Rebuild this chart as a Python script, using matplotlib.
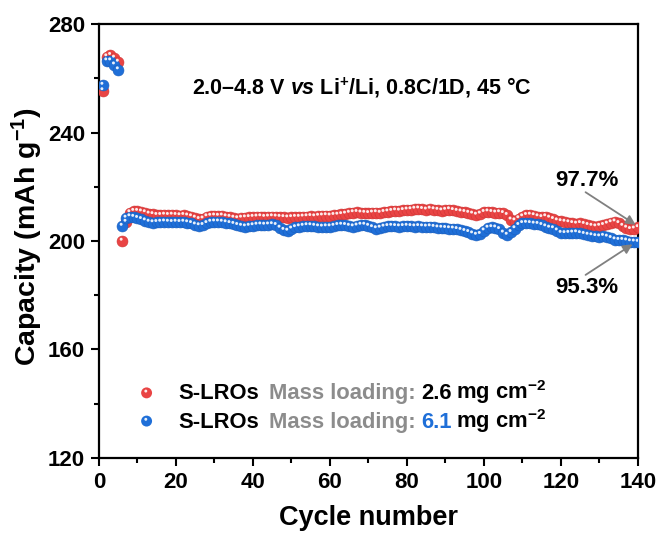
import matplotlib
matplotlib.use("Agg")
import matplotlib.pyplot as plt
import matplotlib.transforms as mtransforms
import numpy as np

plt.rcParams['font.family'] = ['Liberation Sans', 'DejaVu Sans']
plt.rcParams['font.weight'] = 'bold'
plt.rcParams['mathtext.fontset'] = 'custom'
plt.rcParams['mathtext.rm'] = 'Liberation Sans:bold'
plt.rcParams['mathtext.it'] = 'Liberation Sans:italic:bold'
plt.rcParams['mathtext.bf'] = 'Liberation Sans:bold'

cycles = list(range(1, 141))
cap_26 = [255.5, 268, 268.5, 267.5, 266, 200, 207, 210.5, 211, 211,
          210.8, 210.5, 210, 209.8, 209.5, 209.5, 209.6, 209.5, 209.6, 209.5,
          209.4, 209.5, 209.3, 209, 208.5, 208, 208.2, 209, 209.2, 209.3,
          209.2, 209.3, 209, 208.8, 208.5, 208.3, 208.5, 208.6, 208.7, 208.8,
          208.9, 209, 208.8, 208.9, 209, 208.9, 208.8, 208.7, 208.6, 208.7,
          208.8, 208.8, 208.9, 209, 209.1, 209, 209.2, 209.3, 209.4, 209.3,
          209.5, 209.6, 209.8, 210, 210.3, 210.5, 210.6, 210.4, 210.3, 210.2,
          210.4, 210.5, 210.3, 210.6, 210.8, 211, 211.2, 211.1, 211.3, 211.5,
          211.6, 211.8, 211.9, 211.7, 211.5, 211.8, 211.6, 211.4, 211.2, 211.4,
          211.6, 211.3, 211, 210.8, 210.6, 210.3, 210, 209.6, 210, 210.6,
          210.8, 210.6, 210.4, 210.5, 210.2, 209.5, 207.8, 207.5, 208.3, 209,
          209.5, 209.6, 209.4, 209, 208.7, 209, 208.5, 208, 207.5, 207.2,
          207, 206.8, 206.5, 206.3, 206.5, 206.2, 205.8, 205.5, 205.3, 205.5,
          205.8, 206.3, 206.8, 207.1, 206.5, 205.5, 204.8, 204.3, 204.5, 205]
cap_61 = [257.5, 266.5, 266.5, 265, 263.2, 205.5, 208.5, 209, 208.8, 208.4,
          208, 207.5, 207, 206.8, 206.9, 207, 207.1, 207, 206.9, 207,
          206.9, 207, 206.8, 206.5, 206, 205.7, 205.8, 206.5, 207, 207.1,
          207.1, 207, 206.8, 206.5, 206.2, 205.8, 205.5, 205.3, 205.5, 205.7,
          205.9, 206, 205.9, 206, 206.1, 205.8, 204.8, 204, 203.7, 204.5,
          205, 205.3, 205.5, 205.7, 205.7, 205.5, 205.3, 205.2, 205.3, 205.3,
          205.5, 205.8, 205.9, 205.8, 205.5, 205.3, 205.6, 205.9, 205.9, 205.5,
          205, 204.6, 204.8, 205.2, 205.4, 205.5, 205.4, 205.3, 205.4, 205.5,
          205.4, 205.3, 205.4, 205.3, 205.2, 205.3, 205.1, 204.9, 204.8, 204.7,
          204.6, 204.5, 204.3, 204, 203.6, 203.2, 202.7, 202.2, 202.5, 203.8,
          204.8, 205, 204.9, 204.3, 203, 202.2, 203.2, 204.6, 205.8, 206.5,
          206.6, 206.5, 206.3, 206.2, 205.8, 205.3, 204.8, 204.6, 203.8, 202.9,
          202.8, 202.9, 203, 203.1, 202.8, 202.5, 202.2, 202, 201.7, 201.6,
          201.8, 201.5, 201, 200.5, 200.3, 200.3, 200.1, 199.8, 199.7, 199.6]

x_ticks = [0, 20, 40, 60, 80, 100, 120, 140]
y_ticks = [120, 160, 200, 240, 280]
retention_labels = ["97.7%", "95.3%"]

RED = "#E94444"
BLUE = "#1F6FD8"
GREY = "#8C8C8C"

fig = plt.figure(figsize=(6.59, 5.35), dpi=100)
ax = fig.add_axes([0.150, 0.144, 0.818, 0.811])

hl = mtransforms.offset_copy(ax.transData, fig=fig, x=-0.8, y=1.8, units='dots')
for data, col, ec in [(cap_26, RED, "#D03535"), (cap_61, BLUE, "#1A5EBD")]:
    ax.scatter(cycles, data, s=62, color=col, edgecolors=ec, linewidths=0.4, zorder=3)
    ax.scatter(cycles, data, s=4.5, color="white", edgecolors='none', alpha=0.9,
               transform=hl, zorder=4)

ax.set_xlim(0, 140)
ax.set_ylim(120, 280)
ax.set_xticks(x_ticks)
ax.set_yticks(y_ticks)
ax.set_xticks([10, 30, 50, 70, 90, 110, 130], minor=True)
ax.set_yticks([140, 180, 220, 260], minor=True)
ax.tick_params(which='major', direction='out', length=6, width=1.5, labelsize=16, pad=4)
ax.tick_params(which='minor', direction='out', length=3.5, width=1.5)
for sp in ax.spines.values():
    sp.set_linewidth(1.6)
for lab in ax.get_xticklabels() + ax.get_yticklabels():
    lab.set_fontweight('bold')

ax.set_xlabel("Cycle number", fontsize=19.5, fontweight='bold', labelpad=9)
ax.set_ylabel("Capacity (mAh g$^{-1}$)", fontsize=20.5, fontweight='bold', labelpad=5)
ax.yaxis.set_label_coords(-0.10, 0.51)

ax.text(68.2, 256.5, "2.0–4.8 V $\\mathit{vs}$ Li$^{+}$/Li, 0.8C/1D, 45 °C",
        fontsize=15.5, fontweight='bold', ha='center', va='center')

arrow_kw = dict(arrowstyle='-|>', color='#808080', lw=1.3, mutation_scale=14,
                shrinkA=0, shrinkB=0)
ax.text(126.7, 222.5, retention_labels[0], fontsize=16, fontweight='bold',
        ha='center', va='center')
ax.annotate("", xy=(139.4, 206.0), xytext=(126.4, 218.0), arrowprops=arrow_kw)
ax.text(126.8, 183.0, retention_labels[1], fontsize=16, fontweight='bold',
        ha='center', va='center')
ax.annotate("", xy=(138.6, 198.8), xytext=(126.4, 187.5), arrowprops=arrow_kw)

# legend
legend_rows = [(cap_26, RED, "2.6", "black", 144.0),
               (cap_61, BLUE, "6.1", BLUE, 133.6)]
fig.canvas.draw()
renderer = fig.canvas.get_renderer()
for _, col, load, loadcol, yrow in legend_rows:
    ax.scatter([12.4], [yrow], s=62, color=col, edgecolors='none', zorder=5)
    ax.scatter([12.4], [yrow], s=4.5, color='white', edgecolors='none', alpha=0.9,
               transform=hl, zorder=6)
    pieces = [("S-LROs", "black", 0), ("Mass loading:", GREY, 10),
              (load, loadcol, 5), ("mg cm$^{-2}$", "black", 5)]
    x_disp, y_disp = ax.transData.transform((20.7, yrow - 2.4))
    for txt, c, gap in pieces:
        x_disp += gap
        t = ax.text(x_disp, y_disp, txt, color=c, fontsize=15.8, fontweight='bold',
                    ha='left', va='baseline', transform=None)
        bb = t.get_window_extent(renderer)
        x_disp = bb.x1

fig.savefig("out.png", dpi=100)
